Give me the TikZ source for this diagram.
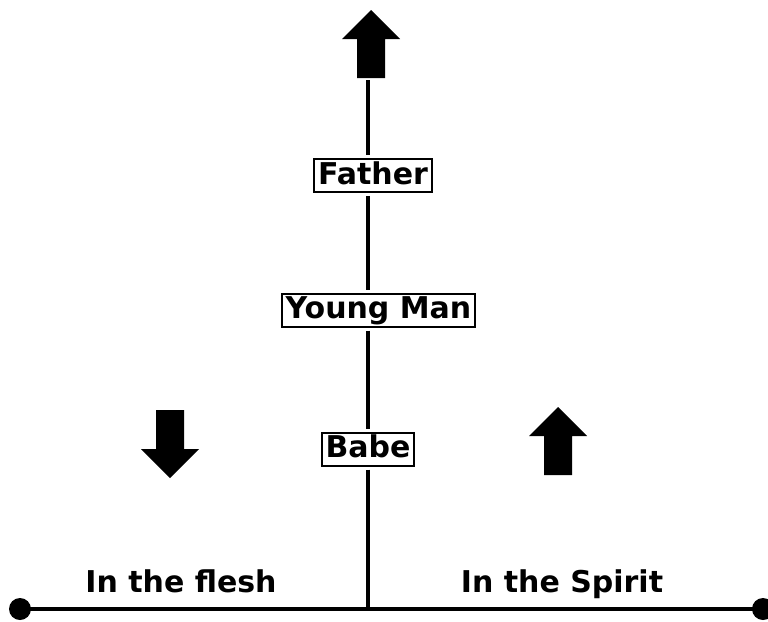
\documentclass[tikz,border=0pt]{standalone}
\usepackage{fontspec}
\setsansfont{DejaVu Sans}
\usetikzlibrary{calc}

\begin{document}
\begin{tikzpicture}[x=1pt, y=-1pt,
  stage/.style={draw, line width=2pt, fill=white, inner xsep=4pt, inner ysep=2pt, text height=23pt, text depth=6pt, outer sep=4pt, font=\sffamily\bfseries\fontsize{30}{32}\selectfont},
  side/.style={anchor=base, font=\sffamily\bfseries\fontsize{30}{32}\selectfont},
  spine/.style={line width=4pt},
  ground/.style={line width=3.5pt},
  bigarrow/.pic={\fill (0,0) -- (29,29) -- (14,29) -- (14,68) -- (-14,68) -- (-14,29) -- (-29,29) -- cycle;}]
\useasboundingbox (0,0) rectangle (768,621);
% stages on the line
\node[stage] (father) at (373,175.5) {Father};
\node[stage] (youngman) at (378.5,310) {Young Man};
\node[stage] (babe) at (368,449) {Babe};
\coordinate (tail) at (368,80);
\coordinate (base) at (368,609);
\coordinate (lend) at (20,609);
\coordinate (rend) at (763,609);
\draw[spine] (tail) -- (tail |- father.north);
\foreach \a/\b in {father/youngman, youngman/babe}
  \draw[spine] (\a.south -| tail) -- (\b.north -| tail);
\draw[spine] (babe.south -| tail) -- (base);
% ground line
\draw[ground] (lend) -- (rend);
\fill (lend) circle[radius=11pt];
\fill (rend) circle[radius=11pt];
\node[side] (flesh) at (181,592) {In the flesh};
\node[side] (spirit) at (562,592) {In the Spirit};
% arrows
\pic at (371,10) {bigarrow};
\pic[rotate=180] at (170,478) {bigarrow};
\pic at (558,407) {bigarrow};
\end{tikzpicture}
\end{document}
